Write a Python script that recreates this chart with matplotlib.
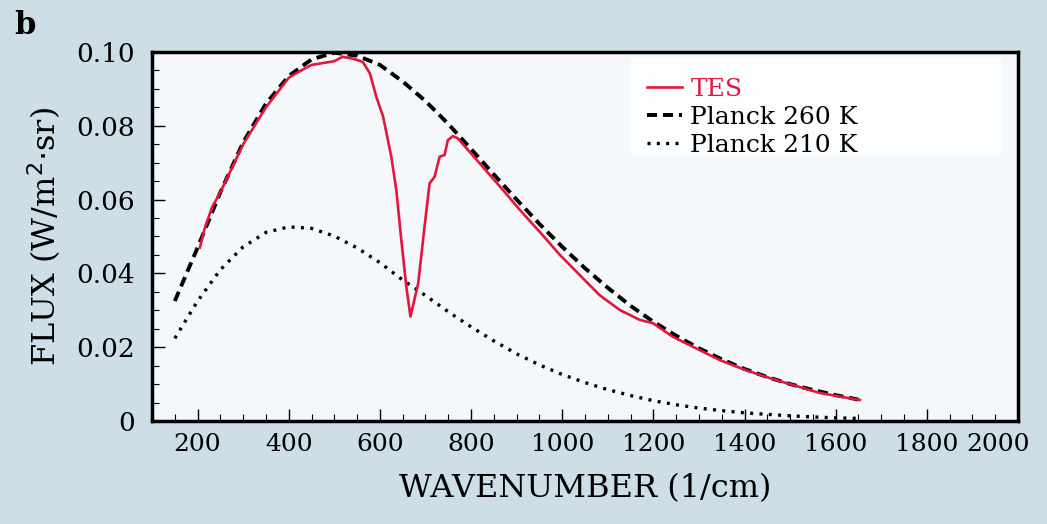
import matplotlib
matplotlib.use("Agg")
import matplotlib.pyplot as plt
from matplotlib.ticker import MultipleLocator, FuncFormatter
from matplotlib.patches import Rectangle

# wavenumber (1/cm) and flux (W/m^2 sr)
planck_wn = [150, 200, 250, 300, 350, 400, 450, 500, 550, 600, 650, 700, 750, 800,
             850, 900, 950, 1000, 1050, 1100, 1150, 1200, 1250, 1300, 1350, 1400,
             1450, 1500, 1550, 1600, 1650]
planck_260 = [0.0325, 0.047, 0.062, 0.0755, 0.086, 0.0935, 0.098, 0.0998, 0.099,
              0.0965, 0.092, 0.0867, 0.0805, 0.0737, 0.0668, 0.060, 0.0534, 0.0472,
              0.0414, 0.0361, 0.0312, 0.0269, 0.0231, 0.0197, 0.0167, 0.0141,
              0.0119, 0.0100, 0.0084, 0.0070, 0.0058]
planck_210 = [0.0224, 0.0325, 0.041, 0.0472, 0.0511, 0.0526, 0.0522, 0.0501, 0.0469,
              0.0429, 0.0382, 0.034, 0.0296, 0.0255, 0.0217, 0.0182, 0.0152, 0.0126,
              0.0104, 0.0085, 0.0069, 0.0055, 0.0044, 0.0035, 0.0028, 0.0022,
              0.0018, 0.0014, 0.0011, 0.00085, 0.0007]

tes_wn = [205, 215, 232, 250, 300, 350, 400, 420, 450, 500, 518, 540, 556, 563, 578,
          592, 607, 625, 636, 647, 658, 667, 684, 698, 709, 720, 731, 742, 749, 760,
          771, 819, 870, 907, 951, 995, 1038, 1082, 1126, 1170, 1199, 1243, 1300,
          1346, 1400, 1456, 1510, 1565, 1610, 1653]
tes_flux = [0.047, 0.052, 0.058, 0.062, 0.075, 0.085, 0.093, 0.0945, 0.0965, 0.0975,
            0.0987, 0.0982, 0.0976, 0.0972, 0.0942, 0.0879, 0.0825, 0.0716, 0.0626,
            0.049, 0.0364, 0.0283, 0.0373, 0.0527, 0.0644, 0.0662, 0.0716, 0.0721,
            0.0761, 0.0772, 0.0766, 0.0698, 0.0626, 0.0572, 0.0512, 0.045, 0.0396,
            0.0341, 0.0301, 0.0274, 0.0265, 0.0228, 0.0193, 0.0165, 0.0139, 0.0116,
            0.0096, 0.0076, 0.0066, 0.0057]

red = '#e3173d'


def main():
    plt.rcParams['font.family'] = ['DejaVu Serif']
    fig = plt.figure(figsize=(10.47, 5.24), dpi=100, facecolor='#cddee7')
    ax = fig.add_axes([0.1452, 0.1966, 0.8271, 0.7042])
    ax.set_facecolor('#f5f8fb')

    # faint white box behind the legend
    ax.add_patch(Rectangle((0.552, 0.72), 0.43, 0.265, transform=ax.transAxes,
                           facecolor='white', edgecolor='none', alpha=0.8, zorder=1))

    ax.plot(tes_wn, tes_flux, color=red, lw=1.9, label='TES', zorder=3)
    ax.plot(planck_wn, planck_260, color='black', lw=2.8, dashes=(2.6, 1.5),
            label='Planck 260 K', zorder=2)
    ax.plot(planck_wn, planck_210, color='black', lw=2.4, dashes=(0.9, 1.9),
            label='Planck 210 K', zorder=2)

    ax.set_xlim(100, 2000)
    ax.set_ylim(0, 0.1)
    ax.xaxis.set_major_locator(MultipleLocator(200))
    ax.xaxis.set_minor_locator(MultipleLocator(50))
    ax.yaxis.set_major_locator(MultipleLocator(0.02))
    ax.yaxis.set_minor_locator(MultipleLocator(0.005))
    ax.yaxis.set_major_formatter(FuncFormatter(lambda v, p: '0' if abs(v) < 1e-9 else '%.2f' % v))
    # last x label is drawn separately, shifted left so it fits
    ax.xaxis.set_major_formatter(FuncFormatter(lambda v, p: '' if v > 1999 else '%d' % v))

    ax.tick_params(which='both', direction='in', labelsize=19)
    ax.tick_params(axis='x', labelsize=18)
    ax.tick_params(which='major', length=9, width=1.0)
    ax.tick_params(which='minor', length=5, width=0.8)
    ax.tick_params(axis='y', pad=12)
    ax.tick_params(axis='x', pad=9)
    for s in ax.spines.values():
        s.set_linewidth(2.5)

    ax.annotate('2000', xy=(2000, 0), xycoords=('data', 'axes fraction'),
                xytext=(-14, -9), textcoords='offset points', ha='center', va='top',
                fontsize=18)

    ax.set_xlabel('WAVENUMBER (1/cm)', fontsize=23, labelpad=12)
    ax.set_ylabel('FLUX (W/m$^2$$\\cdot$sr)', fontsize=23, labelpad=10)

    leg = ax.legend(loc='upper left', bbox_to_anchor=(0.548, 0.985), fontsize=18,
                    frameon=False, handlelength=1.4, handletextpad=0.35,
                    labelspacing=0.2, borderpad=0.3)
    leg.get_texts()[0].set_color(red)

    fig.text(0.014, 0.935, 'b', fontsize=22, fontweight='bold')

    fig.savefig('out.png', dpi=100, facecolor=fig.get_facecolor())


if __name__ == "__main__":
    main()
